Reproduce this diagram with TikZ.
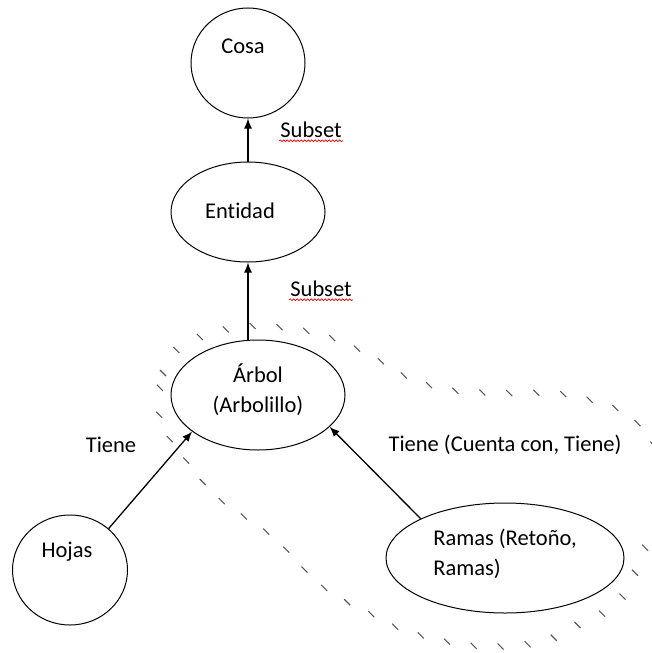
\documentclass[tikz,border=0pt]{standalone}
\usepackage{fontspec}
\setmainfont{Carlito}[Ligatures={NoCommon}]
\usetikzlibrary{shapes.geometric, arrows.meta, decorations.markings, decorations.pathmorphing}

\begin{document}
\begin{tikzpicture}[x=1pt, y=-1pt,
  font=\fontsize{22.5}{30}\selectfont,
  concept/.style={ellipse, draw=black, line width=1pt, inner sep=0pt},
  link/.style={draw=black, line width=1.3pt, -{Latex[length=10pt,width=8pt]}},
  spell/.style={red, line width=0.7pt, decorate, decoration={snake, amplitude=0.9pt, segment length=3.5pt}},
  ticks/.style={decorate, decoration={markings, mark=between positions 0 and 1 step 27pt with {\pgftransformresetnontranslations \draw[black!65, line width=1.1pt] (-3pt,3pt) -- (3pt,-3pt);}}}]
\path[use as bounding box, clip] (0,0) rectangle (652,653);

\path[ticks] plot[smooth cycle, tension=0.6] coordinates {(160,420) (163,373) (183,345) (233,328) (277,327) (323,335) (370,355) (407,377) (450,390) (503,393) (550,393) (583,398) (623,412) (652,442) (664,492) (647,543) (620,600) (583,622) (540,642) (477,646) (412,633) (377,617) (323,587) (273,537) (217,497) (180,452)};

\node [concept, minimum width=114pt, minimum height=110pt] (cosa) at (248,63) {};
\node at (243,46) (cosatxt) {Cosa};
\node [concept, minimum width=154pt, minimum height=100pt] (entidad) at (248,212) {};
\node at (240,211) (entidadtxt) {Entidad};
\node [concept, minimum width=174pt, minimum height=110pt] (arbol) at (258,395) {};
\node [align=center] at (258,390) (arboltxt) {Árbol\\(Arbolillo)};
\node [concept, minimum width=115pt, minimum height=110pt] (hojas) at (70,570) {};
\node at (67,552) (hojastxt) {Hojas};
\node [concept, minimum width=238pt, minimum height=110pt] (ramas) at (505,558) {};
\node [align=left] at (505,554) (ramastxt) {Ramas (Retoño,\\Ramas)};

\draw[link] (entidad.north) -- (cosa.south);
\draw[link] (entidad.south |- arbol.north) -- (entidad.south);
\draw[link] (hojas.47) -- (arbol.209);
\draw[link] (ramas.155) -- (arbol.336);

\node [inner sep=1pt] at (311,130) (sub1) {Subset};
\draw[spell] ([yshift=-3pt]sub1.base west) -- ([yshift=-3pt]sub1.base east);
\node [inner sep=1pt] at (321,289) (sub2) {Subset};
\draw[spell] ([yshift=-3pt]sub2.base west) -- ([yshift=-3pt]sub2.base east);
\node at (111,445) (tiene1) {Tiene};
\node at (505,445) (tiene2) {Tiene (Cuenta con, Tiene)};
\end{tikzpicture}
\end{document}
